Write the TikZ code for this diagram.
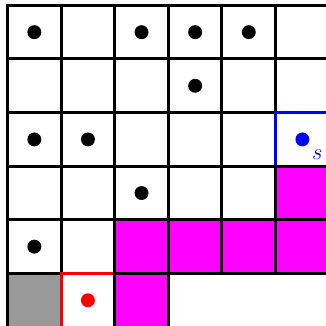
\documentclass[tikz,border=0pt]{standalone}
\usepackage{tikz}
\definecolor{cellgray}{HTML}{999999}
\definecolor{wallmagenta}{RGB}{255,0,255}
\definecolor{goalblue}{RGB}{0,0,255}
\definecolor{startred}{RGB}{255,0,0}
\tikzset{
  cell/.style={draw=black, line width=1.6pt},
  wall/.style={cell, fill=wallmagenta},
  dot/.style={fill=black},
}
\begin{document}
\begin{tikzpicture}
    \useasboundingbox (-0.14,0.02) rectangle (5.94,6.10);

    % Grid cells
    \foreach \r in {1,...,5}
      \foreach \c in {0,...,5}
        \draw[cell] (\c,\r) rectangle ++(1,1);
    \draw[cell, fill=cellgray] (0,0) rectangle (1,1);
    \draw[cell] (1,0) rectangle (2,1);

    % Start and goal cells
    \draw[line width=1.6pt, startred] (1,0) rectangle (2,1);
    \draw[line width=1.6pt, goalblue] (5,3) rectangle (6,4);

    % Walls
    \draw[wall] (2,0) rectangle (3,1);
    \draw[wall] (2,1) rectangle (3,2);
    \draw[wall] (3,1) rectangle (4,2);
    \draw[wall] (4,1) rectangle (5,2);
    \draw[wall] (5,1) rectangle (6,2);
    \draw[wall] (5,2) rectangle (6,3);

    % Dots
    \foreach \p in {(0.5,5.5), (2.5,5.5), (3.5,5.5), (4.5,5.5), (3.5,4.5),
                    (0.5,3.5), (1.5,3.5), (2.5,2.5), (0.5,1.5)}
      \fill[dot] \p circle (0.13);
    \fill[startred] (1.5,0.5) circle (0.13);
    \fill[goalblue] (5.5,3.5) circle (0.13);
    \node[goalblue, font=\large] at (5.78,3.22) {$s$};

\end{tikzpicture}
\end{document}
